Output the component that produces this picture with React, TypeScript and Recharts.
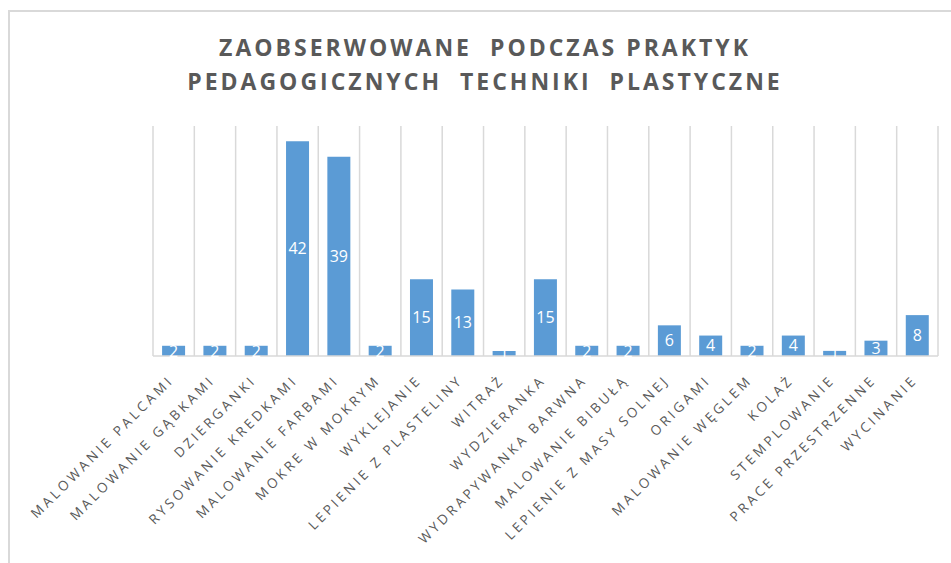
import React from "react"
import { Bar, BarChart, CartesianGrid, LabelList, XAxis, YAxis } from "recharts"

const techniques = [
  "MALOWANIE PALCAMI",
  "MALOWANIE GĄBKAMI",
  "DZIERGANKI",
  "RYSOWANIE KREDKAMI",
  "MALOWANIE FARBAMI",
  "MOKRE W MOKRYM",
  "WYKLEJANIE",
  "LEPIENIE Z PLASTELINY",
  "WITRAŻ",
  "WYDZIERANKA",
  "WYDRAPYWANKA BARWNA",
  "MALOWANIE BIBUŁĄ",
  "LEPIENIE Z MASY SOLNEJ",
  "ORIGAMI",
  "MALOWANIE WĘGLEM",
  "KOLAŻ",
  "STEMPLOWANIE",
  "PRACE PRZESTRZENNE",
  "WYCINANIE",
]

const counts = [2, 2, 2, 42, 39, 2, 15, 13, 1, 15, 2, 2, 6, 4, 2, 4, 1, 3, 8]

const titleLines = ["ZAOBSERWOWANE  PODCZAS PRAKTYK", "PEDAGOGICZNYCH  TECHNIKI  PLASTYCZNE"]

const data = techniques.map((name, i) => ({ name, value: counts[i] }))

const TEXT = "#595959"
const GRID = "#d9d9d9"
const BLUE = "#5b9bd5"

function RotatedTick({ x, y, payload }: any) {
  return (
    <g transform={`translate(${x + 1},${y + 17})`}>
      <text
        textAnchor="end"
        transform="rotate(-45)"
        fill={TEXT}
        fontSize={13.5}
        letterSpacing={3.2}
      >
        {payload.value}
      </text>
    </g>
  )
}

// gridlines sit between the categories, not on them
const boundaries = ({ offset }: any) =>
  techniques.map((_, i) => offset.left + (i * offset.width) / techniques.length).concat(offset.left + offset.width)

export default function App() {
  return (
    <div
      style={{
        position: "absolute",
        left: 0,
        top: 0,
        width: 951,
        height: 563,
        overflow: "hidden",
        background: "#fff",
        fontFamily: "'Open Sans', sans-serif",
      }}
    >
      <div
        style={{
          position: "absolute",
          left: 8,
          top: 10,
          width: 1000,
          height: 700,
          border: `2px solid ${GRID}`,
        }}
      />
      <div
        style={{
          position: "absolute",
          left: 0,
          top: 30,
          width: 970,
          textAlign: "center",
          color: TEXT,
          fontSize: 23,
          fontWeight: 700,
          letterSpacing: 3,
          lineHeight: "34px",
          whiteSpace: "pre",
        }}
      >
        {titleLines.map((t) => (
          <div key={t}>{t}</div>
        ))}
      </div>
      <div style={{ position: "absolute", left: 0, top: 0 }}>
        <BarChart
          width={951}
          height={563}
          data={data}
          margin={{ top: 126, right: 13, bottom: 7, left: 153 }}
          barCategoryGap="22%"
        >
          <CartesianGrid
            horizontal={false}
            stroke={GRID}
            strokeWidth={1.5}
            verticalCoordinatesGenerator={boundaries}
          />
          <XAxis
            dataKey="name"
            interval={0}
            height={200}
            tickLine={false}
            axisLine={{ stroke: GRID, strokeWidth: 1.5 }}
            tick={<RotatedTick />}
          />
          <YAxis hide domain={[0, 45]} />
          <Bar dataKey="value" fill={BLUE} isAnimationActive={false}>
            <LabelList dataKey="value" position="center" fill="#fff" fontSize={16} />
          </Bar>
        </BarChart>
      </div>
    </div>
  )
}
